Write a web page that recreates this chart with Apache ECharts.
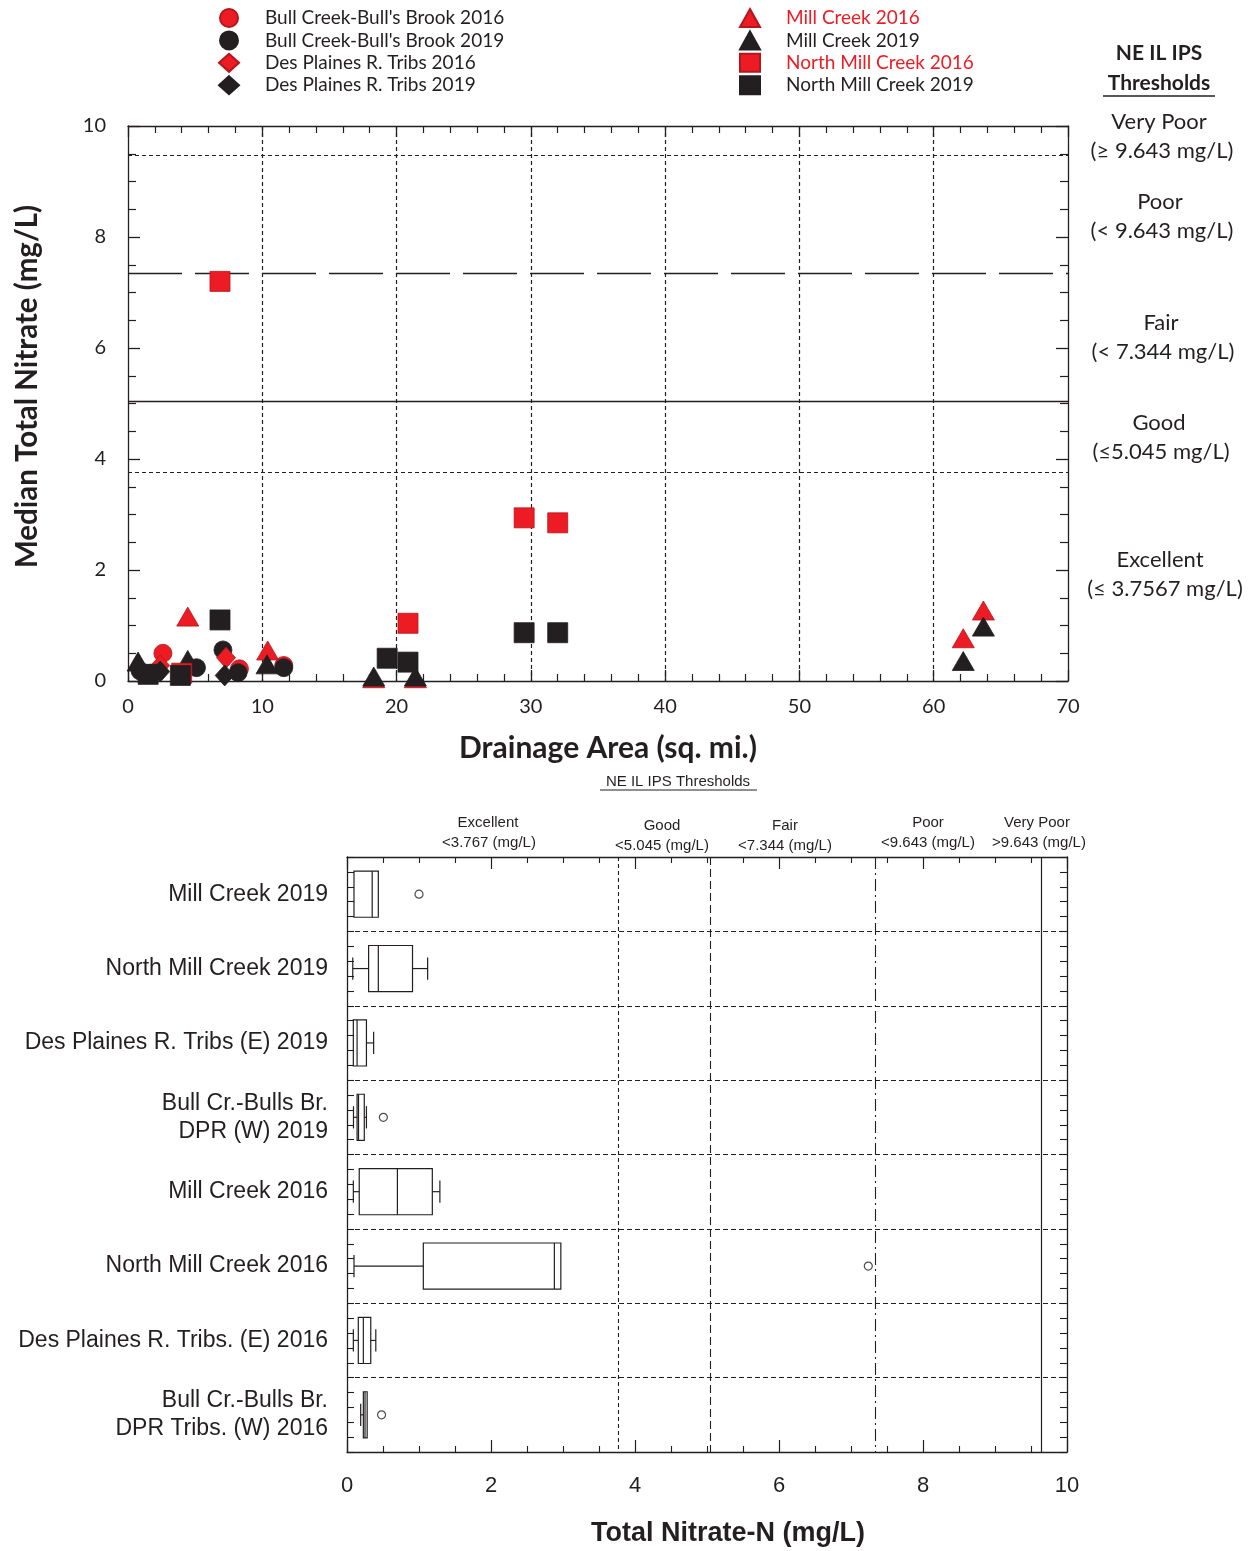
<!DOCTYPE html>
<html>
<head>
<meta charset="utf-8">
<script src="https://cdn.jsdelivr.net/npm/echarts@6/dist/echarts.min.js"></script>
<style>
  html, body { margin: 0; padding: 0; background: #fff; }
  #chart { width: 1257px; height: 1551px; }
</style>
</head>
<body>
<div id="chart"></div>
<script>
// ---- Median total nitrate vs drainage area: [sq. mi., mg/L] ----
const bullCreek2016   = [[2.6, 0.50], [8.3, 0.22], [11.6, 0.28]];
const bullCreek2019   = [[0.9, 0.18], [1.7, 0.14], [5.1, 0.24], [7.07, 0.56], [8.2, 0.15], [11.6, 0.24]];
const desPlaines2016  = [[2.4, 0.28], [7.3, 0.42]];
const desPlaines2019  = [[2.4, 0.17], [7.2, 0.10]];
const millCreek2016   = [[4.45, 1.16], [10.4, 0.55], [18.3, 0.05], [21.4, 0.05], [62.2, 0.77], [63.7, 1.27]];
const millCreek2019   = [[0.75, 0.35], [4.45, 0.38], [10.35, 0.30], [18.3, 0.08], [21.4, 0.08], [62.2, 0.36], [63.7, 0.98]];
const northMill2016   = [[6.85, 7.20], [4.0, 0.14], [20.85, 1.04], [29.5, 2.94], [32.0, 2.85]];
const northMill2019   = [[6.85, 1.10], [1.5, 0.12], [3.9, 0.10], [19.3, 0.41], [20.85, 0.34], [29.5, 0.87], [32.0, 0.87]];

// Horizontal guide lines on the scatter panel (mg/L)
const scatterGuides = [9.48, 7.344, 5.045, 3.7567];

// ---- Box plots of total nitrate-N by group (top to bottom) ----
const boxGroups = [
  'Mill Creek 2019',
  'North Mill Creek 2019',
  'Des Plaines R. Tribs (E) 2019',
  'Bull Cr.-Bulls Br.\nDPR (W) 2019',
  'Mill Creek 2016',
  'North Mill Creek 2016',
  'Des Plaines R. Tribs. (E) 2016',
  'Bull Cr.-Bulls Br.\nDPR Tribs. (W) 2016'
];
const boxLow    = [0.097, 0.08, 0.088, 0.09, 0.088, 0.097, 0.088, 0.19];
const boxQ1     = [0.097, 0.30, 0.088, 0.14, 0.17, 1.06, 0.157, 0.227];
const boxMedian = [0.35, 0.435, 0.14, 0.16, 0.70, 2.88, 0.227, 0.25];
const boxQ3     = [0.435, 0.91, 0.27, 0.24, 1.185, 2.97, 0.33, 0.28];
const boxHigh   = [0.435, 1.12, 0.37, 0.27, 1.29, 2.97, 0.40, 0.28];
// outliers: [mg/L, group index]
const boxOutliers = [[1.0, 0], [0.505, 3], [7.24, 5], [0.48, 7]];

// Threshold values for the box-plot panel (mg/L)
const ipsThresholds = [3.767, 5.045, 7.344, 9.643];

const RED = '#ed1c24';
const BLK = '#231f20';
const TOP_FONT = 'Lato, "Open Sans", sans-serif';
const BOT_FONT = '"Liberation Sans", Arial, sans-serif';

const chart = echarts.init(document.getElementById('chart'), null, { renderer: 'canvas' });

function pointSeries(name, data, symbol, size, color, z) {
  return {
    name: name, type: 'scatter', xAxisIndex: 0, yAxisIndex: 0,
    data: data, symbol: symbol, symbolSize: size, z: z, symbolKeepAspect: true,
    itemStyle: {
      color: color, opacity: 1,
      borderColor: color === RED ? '#b3161c' : BLK, borderWidth: 0.8
    },
    emphasis: { disabled: true }
  };
}

const boxData = boxGroups.map((g, i) => [i, boxLow[i], boxQ1[i], boxMedian[i], boxQ3[i], boxHigh[i]]);

function renderBox(params, api) {
  const c = api.value(0);
  const yc = api.coord([0, c])[1];
  const band = api.size([0, 1])[1];
  const bh = band * 0.62, capH = band * 0.3;
  const X = v => api.coord([v, c])[0];
  const lo = X(api.value(1)), q1 = X(api.value(2)), md = X(api.value(3)), q3 = X(api.value(4)), hi = X(api.value(5));
  const st = { stroke: BLK, fill: null, lineWidth: 1.2 };
  const kids = [
    { type: 'rect', shape: { x: q1, y: yc - bh / 2, width: q3 - q1, height: bh }, style: st },
    { type: 'line', shape: { x1: md, y1: yc - bh / 2, x2: md, y2: yc + bh / 2 }, style: st }
  ];
  if (lo < q1 - 0.5) {
    kids.push({ type: 'line', shape: { x1: lo, y1: yc, x2: q1, y2: yc }, style: st });
    kids.push({ type: 'line', shape: { x1: lo, y1: yc - capH / 2, x2: lo, y2: yc + capH / 2 }, style: st });
  }
  if (hi > q3 + 0.5) {
    kids.push({ type: 'line', shape: { x1: q3, y1: yc, x2: hi, y2: yc }, style: st });
    kids.push({ type: 'line', shape: { x1: hi, y1: yc - capH / 2, x2: hi, y2: yc + capH / 2 }, style: st });
  }
  return { type: 'group', children: kids };
}

const thinAxisLine = { show: true, lineStyle: { color: BLK, width: 1.3 } };
const legendText = { fontFamily: TOP_FONT, fontSize: 19, color: BLK, lineHeight: 18, padding: [0, 0, 0, 21] };

function label(x, y, text, font) {
  return { type: 'text', x: x, y: y, style: { text: text, font: font, fill: BLK, align: 'center', verticalAlign: 'middle' } };
}

const option = {
  animation: false,
  backgroundColor: '#fff',
  grid: [
    { left: 128, top: 126, width: 940, height: 555 },
    { left: 347, top: 857, width: 720, height: 595 }
  ],
  legend: [
    {
      orient: 'vertical', left: 213, top: 3, itemWidth: 20, itemHeight: 18, itemGap: 2.4,
      selectedMode: false, symbolKeepAspect: true,
      textStyle: legendText,
      data: ["Bull Creek-Bull's Brook 2016", "Bull Creek-Bull's Brook 2019",
             'Des Plaines R. Tribs 2016', 'Des Plaines R. Tribs 2019']
    },
    {
      orient: 'vertical', left: 734, top: 3, itemWidth: 20, itemHeight: 18, itemGap: 2.4,
      selectedMode: false, symbolKeepAspect: true,
      textStyle: legendText,
      data: [
        { name: 'Mill Creek 2016', textStyle: { color: RED } },
        { name: 'Mill Creek 2019' },
        { name: 'North Mill Creek 2016', textStyle: { color: RED } },
        { name: 'North Mill Creek 2019' }
      ]
    }
  ],
  xAxis: [
    {
      type: 'value', gridIndex: 0, position: 'bottom', min: 0, max: 70, interval: 10,
      axisLine: Object.assign({ onZero: false }, thinAxisLine),
      axisTick: { show: true, inside: true, length: 11, lineStyle: { color: BLK, width: 1.3 } },
      minorTick: { show: true, splitNumber: 5, length: 7, lineStyle: { color: BLK, width: 1.2 } },
      splitLine: { show: true, showMinLine: false, showMaxLine: false, lineStyle: { color: BLK, type: [4, 3], width: 1.2 } },
      axisLabel: { fontFamily: TOP_FONT, fontSize: 20, color: BLK, margin: 16 },
      name: 'Drainage Area (sq. mi.)', nameLocation: 'middle', nameGap: 52,
      nameTextStyle: { fontFamily: TOP_FONT, fontSize: 30, fontWeight: 'bold', color: BLK, padding: [0, 0, 0, 20] }
    },
    {
      type: 'value', gridIndex: 0, position: 'top', min: 0, max: 70, interval: 10,
      axisLine: Object.assign({ onZero: false }, thinAxisLine),
      axisTick: { show: true, inside: true, length: 11, lineStyle: { color: BLK, width: 1.3 } },
      minorTick: { show: true, splitNumber: 5, length: 7, lineStyle: { color: BLK, width: 1.2 } },
      splitLine: { show: false }, axisLabel: { show: false }
    },
    {
      type: 'value', gridIndex: 1, position: 'bottom', min: 0, max: 10, interval: 2,
      axisLine: Object.assign({ onZero: false }, thinAxisLine),
      axisTick: { show: true, inside: true, length: 12, lineStyle: { color: BLK, width: 1.2 } },
      minorTick: { show: true, splitNumber: 4, length: 6, lineStyle: { color: BLK, width: 1.1 } },
      splitLine: { show: false },
      axisLabel: { fontFamily: BOT_FONT, fontSize: 22, color: BLK, margin: 23 },
      name: 'Total Nitrate-N (mg/L)', nameLocation: 'middle', nameGap: 68,
      nameTextStyle: { fontFamily: BOT_FONT, fontSize: 27, fontWeight: 'bold', color: BLK, padding: [0, 0, 0, 42] }
    },
    {
      type: 'value', gridIndex: 1, position: 'top', min: 0, max: 10, interval: 2,
      axisLine: Object.assign({ onZero: false }, thinAxisLine),
      axisTick: { show: true, inside: true, length: 12, lineStyle: { color: BLK, width: 1.2 } },
      minorTick: { show: true, splitNumber: 4, length: 6, lineStyle: { color: BLK, width: 1.1 } },
      splitLine: { show: false }, axisLabel: { show: false }
    }
  ],
  yAxis: [
    {
      type: 'value', gridIndex: 0, position: 'left', min: 0, max: 10, interval: 2,
      axisLine: Object.assign({ onZero: false }, thinAxisLine),
      axisTick: { show: true, inside: true, length: 12, lineStyle: { color: BLK, width: 1.3 } },
      minorTick: { show: true, splitNumber: 4, length: 8, lineStyle: { color: BLK, width: 1.2 } },
      splitLine: { show: false },
      axisLabel: { fontFamily: TOP_FONT, fontSize: 20, color: BLK, margin: 22 },
      name: 'Median Total Nitrate (mg/L)', nameLocation: 'middle', nameGap: 86, nameRotate: 90,
      nameTextStyle: { fontFamily: TOP_FONT, fontSize: 29.5, fontWeight: 'bold', color: BLK, padding: [0, 0, 0, 34] }
    },
    {
      type: 'value', gridIndex: 0, position: 'right', min: 0, max: 10, interval: 2,
      axisLine: Object.assign({ onZero: false }, thinAxisLine),
      axisTick: { show: true, inside: true, length: 12, lineStyle: { color: BLK, width: 1.3 } },
      minorTick: { show: true, splitNumber: 4, length: 8, lineStyle: { color: BLK, width: 1.2 } },
      splitLine: { show: false }, axisLabel: { show: false }
    },
    {
      type: 'category', gridIndex: 1, position: 'left', inverse: true, data: boxGroups,
      axisLine: Object.assign({ onZero: false }, thinAxisLine),
      axisTick: { show: false },
      splitLine: { show: true, showMinLine: false, showMaxLine: false, lineStyle: { color: BLK, type: [5, 3], width: 1.1 } },
      axisLabel: { fontFamily: BOT_FONT, fontSize: 23, color: BLK, margin: 19, lineHeight: 28, align: 'right' }
    },
    {
      type: 'value', gridIndex: 1, position: 'left', inverse: true, min: 0, max: 8, interval: 1,
      axisLine: { show: false },
      axisTick: { show: true, inside: true, length: 7, lineStyle: { color: BLK, width: 1.1 } },
      minorTick: { show: true, splitNumber: 5, length: 7, lineStyle: { color: BLK, width: 1.1 } },
      splitLine: { show: false }, axisLabel: { show: false }
    },
    {
      type: 'value', gridIndex: 1, position: 'right', inverse: true, min: 0, max: 8, interval: 1,
      axisLine: Object.assign({ onZero: false }, thinAxisLine),
      axisTick: { show: true, inside: true, length: 7, lineStyle: { color: BLK, width: 1.1 } },
      minorTick: { show: true, splitNumber: 5, length: 7, lineStyle: { color: BLK, width: 1.1 } },
      splitLine: { show: false }, axisLabel: { show: false }
    }
  ],
  series: [
    Object.assign(pointSeries("Bull Creek-Bull's Brook 2016", bullCreek2016, 'circle', 18, RED, 3), {
      markLine: {
        silent: true, symbol: 'none', label: { show: false }, animation: false,
        data: [
          { yAxis: scatterGuides[0], lineStyle: { color: BLK, type: [4, 3], width: 1.2 } },
          { yAxis: scatterGuides[1], lineStyle: { color: BLK, type: [54, 13], width: 1.4 } },
          { yAxis: scatterGuides[2], lineStyle: { color: BLK, type: 'solid', width: 1.3 } },
          { yAxis: scatterGuides[3], lineStyle: { color: BLK, type: [4, 3], width: 1.2 } }
        ]
      }
    }),
    pointSeries("Bull Creek-Bull's Brook 2019", bullCreek2019, 'circle', 18, BLK, 4),
    pointSeries('Des Plaines R. Tribs 2016', desPlaines2016, 'diamond', [19, 21], RED, 5),
    pointSeries('Des Plaines R. Tribs 2019', desPlaines2019, 'diamond', [19, 21], BLK, 6),
    pointSeries('Mill Creek 2016', millCreek2016, 'triangle', [22, 19], RED, 7),
    pointSeries('Mill Creek 2019', millCreek2019, 'triangle', [22, 19], BLK, 8),
    pointSeries('North Mill Creek 2016', northMill2016, 'rect', 20, RED, 9),
    pointSeries('North Mill Creek 2019', northMill2019, 'rect', 20, BLK, 10),
    {
      name: 'boxes', type: 'custom', xAxisIndex: 2, yAxisIndex: 2,
      data: boxData, encode: { x: [1, 2, 3, 4, 5], y: 0 },
      renderItem: renderBox, z: 5, silent: true
    },
    {
      name: 'outliers', type: 'scatter', xAxisIndex: 2, yAxisIndex: 2,
      data: boxOutliers, symbol: 'circle', symbolSize: 8, z: 6, silent: true,
      itemStyle: { color: '#fff', borderColor: BLK, borderWidth: 1.2 },
      markLine: {
        silent: true, symbol: 'none', label: { show: false }, animation: false,
        data: [
          { xAxis: ipsThresholds[0], lineStyle: { color: BLK, type: [4, 3], width: 1.1 } },
          { xAxis: ipsThresholds[1], lineStyle: { color: BLK, type: [8, 4], width: 1.1 } },
          { xAxis: ipsThresholds[2], lineStyle: { color: BLK, type: [12, 4, 2, 4], width: 1.1 } },
          { xAxis: ipsThresholds[3], lineStyle: { color: BLK, type: 'solid', width: 1.2 } }
        ]
      }
    }
  ],
  graphic: [
    // threshold key beside the scatter panel
    label(1159, 53, 'NE IL IPS', 'bold 21px ' + TOP_FONT),
    label(1159, 83, 'Thresholds', 'bold 21px ' + TOP_FONT),
    { type: 'line', shape: { x1: 1103, y1: 96, x2: 1215, y2: 96 }, style: { stroke: BLK, lineWidth: 1.4 } },
    label(1159, 122, 'Very Poor', '22px ' + TOP_FONT),
    label(1162, 151, '(≥ 9.643 mg/L)', '22px ' + TOP_FONT),
    label(1160, 202, 'Poor', '22px ' + TOP_FONT),
    label(1162, 231, '(< 9.643 mg/L)', '22px ' + TOP_FONT),
    label(1161, 323, 'Fair', '22px ' + TOP_FONT),
    label(1163, 352, '(< 7.344 mg/L)', '22px ' + TOP_FONT),
    label(1159, 423, 'Good', '22px ' + TOP_FONT),
    label(1161, 452, '(≤5.045 mg/L)', '22px ' + TOP_FONT),
    label(1160, 560, 'Excellent', '22px ' + TOP_FONT),
    label(1165, 589, '(≤ 3.7567 mg/L)', '22px ' + TOP_FONT),

    // threshold key above the box-plot panel
    label(678, 782, 'NE IL IPS Thresholds', '15px ' + BOT_FONT),
    { type: 'line', shape: { x1: 600, y1: 790, x2: 757, y2: 790 }, style: { stroke: BLK, lineWidth: 1 } },
    label(488, 823, 'Excellent', '15px ' + BOT_FONT),
    label(489, 843, '<3.767 (mg/L)', '15px ' + BOT_FONT),
    label(662, 826, 'Good', '15px ' + BOT_FONT),
    label(662, 846, '<5.045 (mg/L)', '15px ' + BOT_FONT),
    label(785, 826, 'Fair', '15px ' + BOT_FONT),
    label(785, 846, '<7.344 (mg/L)', '15px ' + BOT_FONT),
    label(928, 823, 'Poor', '15px ' + BOT_FONT),
    label(928, 843, '<9.643 (mg/L)', '15px ' + BOT_FONT),
    label(1037, 823, 'Very Poor', '15px ' + BOT_FONT),
    label(1039, 843, '>9.643 (mg/L)', '15px ' + BOT_FONT)
  ]
};

chart.setOption(option);
</script>
</body>
</html>
